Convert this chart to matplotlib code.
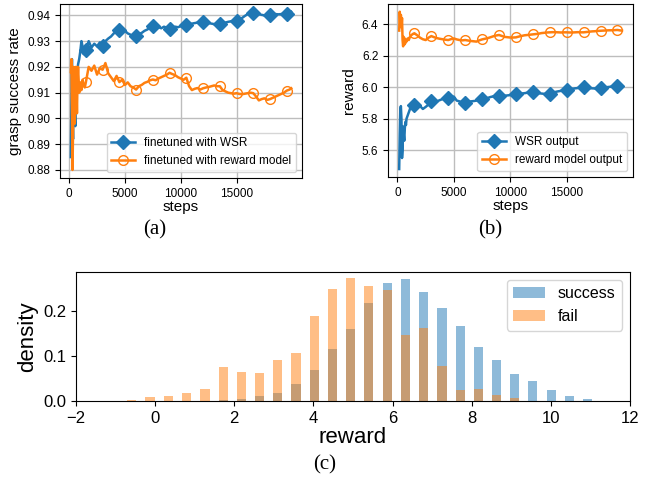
import numpy as np
import matplotlib
matplotlib.use('Agg')
import matplotlib.pyplot as plt

plt.rcParams['font.family'] = ['Liberation Sans', 'DejaVu Sans']

# x grid of the training curves
steps = [150, 200, 250, 300, 350, 400, 450, 500, 550, 600, 650, 700, 750, 800,
         900, 1000, 1100, 1200, 1300, 1400] + list(range(1500, 19751, 250)) + [19900]
marker_steps = list(range(1500, 19501, 1500))

# (a) grasp success rate
wsr_rate = [0.885, 0.905, 0.923, 0.900, 0.892, 0.912, 0.918, 0.903, 0.897, 0.910,
            0.915, 0.913, 0.919, 0.921, 0.923, 0.926, 0.930, 0.928, 0.925, 0.927,
            0.9265, 0.9300, 0.9275, 0.9290, 0.9280, 0.9295, 0.9283, 0.9300, 0.9310, 0.9318,
            0.9330, 0.9338, 0.9342, 0.9336, 0.9340, 0.9330, 0.9325, 0.9318, 0.9321, 0.9328,
            0.9332, 0.9340, 0.9345, 0.9352, 0.9358, 0.9360, 0.9355, 0.9350, 0.9356, 0.9352,
            0.9349, 0.9352, 0.9356, 0.9354, 0.9358, 0.9360, 0.9362, 0.9365, 0.9368, 0.9370,
            0.9372, 0.9374, 0.9375, 0.9372, 0.9370, 0.9368, 0.9366, 0.9368, 0.9367, 0.9370,
            0.9372, 0.9375, 0.9377, 0.9379, 0.9380, 0.9385, 0.9390, 0.9398, 0.9405, 0.9410,
            0.9411, 0.9408, 0.9405, 0.9402, 0.9400, 0.9401, 0.9402, 0.9404, 0.9405, 0.9404,
            0.9405, 0.9406, 0.9407, 0.9410, 0.9414]
rm_rate = [0.918, 0.923, 0.905, 0.880, 0.895, 0.920, 0.910, 0.898, 0.905, 0.920,
           0.912, 0.902, 0.915, 0.920, 0.910, 0.914, 0.911, 0.915, 0.913, 0.912,
           0.9141, 0.9200, 0.9185, 0.9205, 0.9170, 0.9195, 0.9189, 0.9215, 0.9175, 0.9160,
           0.9145, 0.9165, 0.9141, 0.9150, 0.9130, 0.9140, 0.9125, 0.9120, 0.9112, 0.9125,
           0.9130, 0.9138, 0.9142, 0.9148, 0.9151, 0.9148, 0.9155, 0.9160, 0.9165, 0.9170,
           0.9177, 0.9172, 0.9168, 0.9160, 0.9155, 0.9150, 0.9158, 0.9125, 0.9110, 0.9115,
           0.9118, 0.9112, 0.9117, 0.9120, 0.9122, 0.9125, 0.9128, 0.9125, 0.9125, 0.9110,
           0.9105, 0.9100, 0.9098, 0.9096, 0.9098, 0.9095, 0.9094, 0.9096, 0.9098, 0.9100,
           0.9098, 0.9085, 0.9070, 0.9075, 0.9078, 0.9072, 0.9075, 0.9080, 0.9085, 0.9090,
           0.9095, 0.9100, 0.9108, 0.9112, 0.9117]

# (b) reward output
wsr_reward = [5.48, 5.70, 5.86, 5.88, 5.80, 5.55, 5.60, 5.75, 5.70, 5.66,
              5.74, 5.78, 5.76, 5.80, 5.82, 5.84, 5.86, 5.89, 5.88, 5.89,
              5.886, 5.890, 5.880, 5.862, 5.875, 5.890, 5.914, 5.905, 5.910, 5.918,
              5.925, 5.932, 5.929, 5.938, 5.940, 5.915, 5.910, 5.900, 5.897, 5.905,
              5.910, 5.912, 5.915, 5.920, 5.924, 5.928, 5.932, 5.938, 5.942, 5.944,
              5.945, 5.944, 5.946, 5.948, 5.950, 5.953, 5.956, 5.958, 5.960, 5.962,
              5.965, 5.966, 5.967, 5.964, 5.962, 5.960, 5.958, 5.959, 5.960, 5.966,
              5.970, 5.974, 5.977, 5.980, 5.982, 5.986, 5.990, 5.993, 5.995, 5.998,
              5.999, 5.996, 5.994, 5.993, 5.992, 5.991, 5.992, 5.996, 6.000, 6.002,
              6.004, 6.005, 6.007, 6.006, 6.007]
rm_reward = [6.36, 6.48, 6.40, 6.46, 6.38, 6.44, 6.30, 6.26, 6.32, 6.27,
             6.31, 6.28, 6.30, 6.29, 6.31, 6.30, 6.32, 6.33, 6.335, 6.34,
             6.343, 6.330, 6.315, 6.305, 6.300, 6.315, 6.325, 6.318, 6.312, 6.308,
             6.305, 6.302, 6.300, 6.306, 6.310, 6.304, 6.300, 6.298, 6.300, 6.297,
             6.294, 6.292, 6.290, 6.298, 6.304, 6.308, 6.312, 6.318, 6.324, 6.329,
             6.332, 6.326, 6.320, 6.318, 6.316, 6.316, 6.317, 6.322, 6.326, 6.330,
             6.332, 6.334, 6.336, 6.338, 6.340, 6.344, 6.346, 6.348, 6.349, 6.350,
             6.350, 6.349, 6.348, 6.349, 6.349, 6.348, 6.348, 6.349, 6.350, 6.349,
             6.349, 6.351, 6.353, 6.355, 6.356, 6.358, 6.359, 6.360, 6.361, 6.362,
             6.362, 6.363, 6.364, 6.361, 6.360]

# (c) reward histogram (bin centres and densities)
bin_centers = [-1.05, -0.59, -0.13, 0.33, 0.79, 1.26, 1.72, 2.18, 2.64, 3.10,
               3.56, 4.02, 4.48, 4.94, 5.40, 5.87, 6.33, 6.79, 7.25, 7.71,
               8.17, 8.63, 9.09, 9.55, 10.01, 10.48, 10.94, 11.40]
success = [0, 0, 0, 0, 0, 0, 0.003, 0.005, 0.011, 0.018,
           0.038, 0.069, 0.115, 0.159, 0.217, 0.261, 0.270, 0.241, 0.205, 0.166,
           0.119, 0.091, 0.060, 0.044, 0.024, 0.011, 0.005, 0.001]
fail = [0.001, 0.003, 0.010, 0.012, 0.018, 0.027, 0.076, 0.065, 0.062, 0.091,
        0.106, 0.188, 0.248, 0.272, 0.254, 0.246, 0.146, 0.161, 0.078, 0.025,
        0.027, 0.013, 0.007, 0, 0, 0, 0, 0]

assert len(steps) == len(wsr_rate) == len(rm_rate) == len(wsr_reward) == len(rm_reward)
mk = [steps.index(s) for s in marker_steps]

fig = plt.figure(figsize=(6.5, 4.82), dpi=100)
ax1 = fig.add_axes([0.092, 0.631, 0.373, 0.361])
ax2 = fig.add_axes([0.597, 0.633, 0.377, 0.359])
ax3 = fig.add_axes([0.117, 0.168, 0.852, 0.268])

ax1.plot(steps, wsr_rate, color='C0', lw=1.8, marker='D', ms=7, markevery=mk,
         label='finetuned with WSR')
ax1.plot(steps, rm_rate, color='C1', lw=1.8, marker='o', ms=7, mfc='none', markevery=mk,
         label='finetuned with reward model')
ax1.set_ylabel('grasp success rate', fontsize=11)
ax1.set_yticks([0.88, 0.89, 0.90, 0.91, 0.92, 0.93, 0.94])
ax1.legend(loc='lower right', fontsize=8.5)

ax2.plot(steps, wsr_reward, color='C0', lw=1.8, marker='D', ms=7, markevery=mk,
         label='WSR output')
ax2.plot(steps, rm_reward, color='C1', lw=1.8, marker='o', ms=7, mfc='none', markevery=mk,
         label='reward model output')
ax2.set_ylabel('reward', fontsize=11)
ax2.legend(loc='lower right', fontsize=8.5)

for ax in (ax1, ax2):
    ax.grid(True, color='#bdbdbd', lw=1)
    ax.set_xticks([0, 5000, 10000, 15000])
    ax.set_xlabel('steps', fontsize=11, labelpad=0)
    ax.tick_params(labelsize=8.5)

w = (bin_centers[1] - bin_centers[0]) * 0.5
ax3.bar(bin_centers, success, width=w, color='C0', alpha=0.5, label='success')
ax3.bar(bin_centers, fail, width=w, color='C1', alpha=0.5, label='fail')
ax3.set_xlim(-2, 12)
ax3.set_xticks(range(-2, 13, 2))
ax3.set_yticks([0.0, 0.1, 0.2])
ax3.set_xlabel('reward', fontsize=16, labelpad=1)
ax3.set_ylabel('density', fontsize=16)
ax3.tick_params(labelsize=12)
ax3.legend(loc='upper right', fontsize=11.5)

cap = dict(family='Liberation Serif', fontsize=15, ha='center', va='center')
fig.text(0.238, 0.523, '(a)', **cap)
fig.text(0.754, 0.523, '(b)', **cap)
fig.text(0.5, 0.035, '(c)', **cap)

fig.savefig('out.png', dpi=100)
